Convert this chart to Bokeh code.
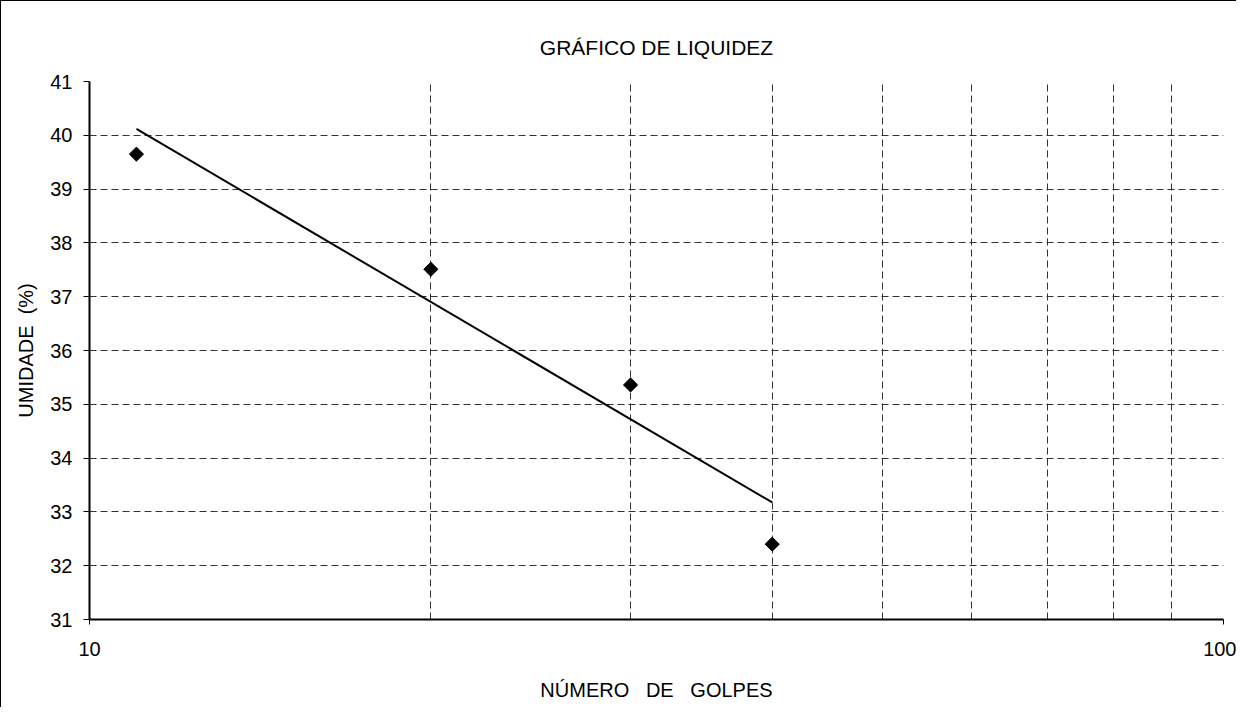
import numpy as np
from bokeh.plotting import figure
from bokeh.models import FixedTicker, Range1d
from bokeh.embed import file_html
from bokeh.resources import INLINE

# ---- data ----
golpes = [11, 20, 30, 40]
umidade = [39.65, 37.51, 35.36, 32.40]

x_major_ticks = [10, 100]
x_minor_ticks = [20, 30, 40, 50, 60, 70, 80, 90]
y_ticks = [31, 32, 33, 34, 35, 36, 37, 38, 39, 40, 41]

title_text = "GRÁFICO DE LIQUIDEZ"
# space / no-break space / space keeps the wide gaps of the original in SVG
x_label = "NÚMERO \u00a0 DE \u00a0 GOLPES"
y_label = "UMIDADE \u00a0(%)"

FONT = "Liberation Sans"
FS = "20px"

# logarithmic trend line fitted to the data
lx = np.log10(golpes)
slope, intercept = np.polyfit(lx, umidade, 1)
trend_x = np.array([min(golpes), max(golpes)], dtype=float)
trend_y = slope * np.log10(trend_x) + intercept

p = figure(width=1236, height=707, x_axis_type="log",
           x_range=Range1d(10, 100), y_range=Range1d(31, 41),
           output_backend="svg", toolbar_location=None,
           min_border_left=88, min_border_top=80,
           min_border_right=14, min_border_bottom=89,
           title=title_text)

p.styles = {"border-left": "1px solid black", "border-top": "1px solid black"}
p.background_fill_color = "white"
p.border_fill_color = "white"
p.outline_line_color = None

p.title.align = "center"
p.title.text_font = FONT
p.title.text_font_size = "21px"
p.title.text_font_style = "normal"
p.title.text_color = "black"
p.title.standoff = 45

# x axis
p.xaxis.ticker = FixedTicker(ticks=x_major_ticks, minor_ticks=x_minor_ticks)
p.xaxis.major_label_overrides = {10: "10", 100: "100"}
p.xaxis.axis_label = x_label
# y axis
p.yaxis.ticker = FixedTicker(ticks=y_ticks)
p.yaxis.axis_label = y_label

for ax in (p.xaxis[0], p.yaxis[0]):
    ax.axis_line_color = "black"
    ax.axis_line_width = 2
    ax.major_tick_line_color = "black"
    ax.major_tick_in = 0
    ax.minor_tick_in = 0
    ax.minor_tick_out = 0
    ax.major_label_text_font = FONT
    ax.major_label_text_font_size = FS
    ax.major_label_text_color = "black"
    ax.axis_label_text_font = FONT
    ax.axis_label_text_font_size = FS
    ax.axis_label_text_font_style = "normal"
    ax.axis_label_text_color = "black"

p.xaxis.major_tick_out = 5
p.xaxis.major_label_standoff = 17
p.xaxis.axis_label_standoff = 20
p.yaxis.major_tick_out = 6
p.yaxis.major_label_standoff = 11
p.yaxis.axis_label_standoff = 10

# grids
p.ygrid.grid_line_color = "#333333"
p.ygrid.grid_line_dash = "7 4"
p.ygrid.grid_line_width = 1
p.xgrid.grid_line_color = "#808080"
p.xgrid.grid_line_width = 1
p.xgrid.minor_grid_line_color = "#333333"
p.xgrid.minor_grid_line_dash = "7 4"
p.xgrid.minor_grid_line_width = 1

# trend line and points
p.line(trend_x, trend_y, line_color="black", line_width=2)
p.scatter(golpes, umidade, marker="square", size=10, angle=np.pi / 4,
          fill_color="black", line_color="black")

open("out.html", "w").write(file_html(p, INLINE))
